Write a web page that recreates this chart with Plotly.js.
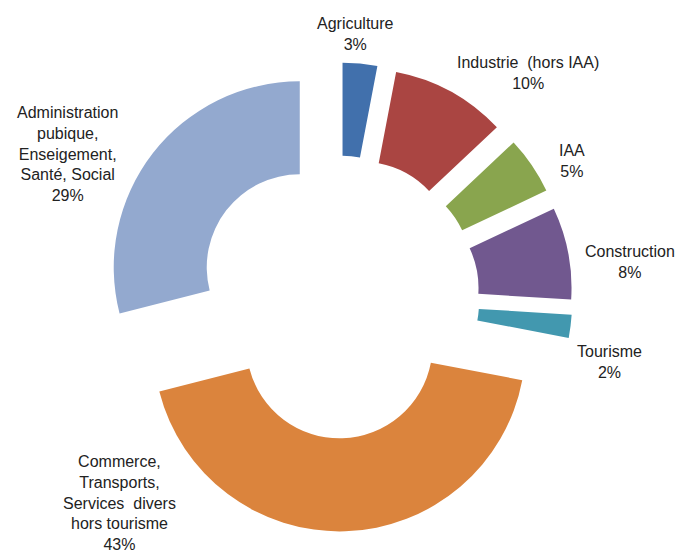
<!DOCTYPE html>
<html>
<head>
<meta charset="utf-8">
<script src="https://cdn.plot.ly/plotly-3.0.1.min.js"></script>
<style>html,body{margin:0;padding:0;background:#fff;}#chart{width:681px;height:552px;}</style>
</head>
<body>
<div id="chart"></div>
<script>
// Data
var labels = ['Agriculture', 'Industrie  (hors IAA)', 'IAA', 'Construction', 'Tourisme',
  'Commerce,<br>Transports,<br>Services  divers<br>hors tourisme',
  'Administration<br>pubique,<br>Enseigement,<br>Santé, Social'];
var values = [3, 10, 5, 8, 2, 43, 29];
var colors = ['#4170AC', '#AA4542', '#89A54E', '#71588F', '#4298AF', '#DB843D', '#93A9CF'];

// Label positions (pixel centres) – layout only
var labelPos = [[356, 34], [528, 73], [572, 161], [630, 262], [609, 362], [119, 503], [67, 154]];

var W = 681, H = 552;
var annotations = labels.map(function (l, i) {
  return {
    text: l + '<br>' + values[i] + '%',
    x: labelPos[i][0] / W, y: 1 - labelPos[i][1] / H,
    xref: 'paper', yref: 'paper',
    xanchor: 'center', yanchor: 'middle', align: 'center',
    showarrow: false,
    font: {family: 'Liberation Sans, Arial, sans-serif', size: 16, color: '#222'}
  };
});

var trace = {
  type: 'pie',
  labels: labels,
  values: values,
  sort: false,
  direction: 'clockwise',
  rotation: 0,
  hole: 0.5,
  pull: values.map(function () { return 0.26; }),
  marker: {colors: colors, line: {width: 0}},
  textinfo: 'none',
  hoverinfo: 'label+percent',
  domain: {x: [0, 0.9926], y: [1 - 531.4 / H, 1 - 62.6 / H]}
};

Plotly.newPlot('chart', [trace], {
  width: W, height: H,
  margin: {l: 0, r: 0, t: 0, b: 0},
  paper_bgcolor: '#fff',
  showlegend: false,
  annotations: annotations
}, {displayModeBar: false, staticPlot: true});
</script>
</body>
</html>
